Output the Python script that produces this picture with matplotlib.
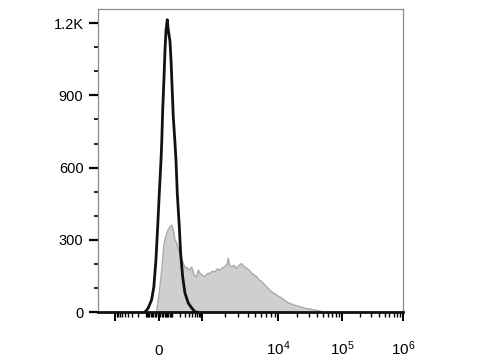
import numpy as np
import matplotlib
matplotlib.use("Agg")
import matplotlib.pyplot as plt
from matplotlib.ticker import FixedLocator, FixedFormatter

plt.rcParams['font.family'] = ['Liberation Sans', 'DejaVu Sans']
plt.rcParams['mathtext.fontset'] = 'custom'
plt.rcParams['mathtext.rm'] = 'Liberation Sans'
plt.rcParams['mathtext.it'] = 'Liberation Sans:italic'

# ---- data (fluorescence intensity, event count) ----
control_x = [-114, -82, -53, -36, -21, -9, 2, 14, 19, 26, 36, 43, 51, 61, 67, 78, 84,
             94, 107, 117, 136, 148, 165, 194, 215, 251, 297, 379, 483, 610, 755]
control_y = [0, 16, 51, 105, 217, 355, 493, 631, 702, 839, 978, 1088, 1170, 1214, 1180,
             1143, 1125, 1047, 909, 811, 702, 631, 493, 355, 245, 147, 80, 38, 18, 2, 0]

stained_x = [-16, 2, 19, 36, 56, 71, 84, 101, 117, 136, 159, 179, 204, 232, 263, 297,
             338, 379, 429, 483, 542, 610, 689, 771, 869, 1000, 1097, 1165, 1275, 1376,
             1484, 1602, 1728, 1865, 2010, 2137, 2222, 2303, 2460, 2637, 2863, 3069,
             3330, 3572, 3876, 4155, 4509, 4834, 5245, 5625, 6102, 6407, 7103, 7610,
             8260, 8860, 9613, 10000, 11420, 12410, 13680, 14860, 16380, 17790, 19610,
             22090, 24860, 28110, 31660, 34620, 37880, 41440, 45340, 49610, 54290, 58320]
stained_y = [8, 80, 175, 286, 327, 345, 355, 361, 340, 300, 286, 265, 245, 220, 203, 185,
             187, 175, 180, 187, 165, 150, 147, 175, 162, 155, 148, 160, 162, 170,
             168, 180, 175, 185, 189, 200, 224, 195, 189, 195, 182, 195,
             202, 190, 182, 175, 162, 155, 148, 135, 127, 120, 106, 95,
             85, 78, 72, 67, 59, 52, 44, 38, 34, 30, 27,
             23, 19, 15, 14, 11, 10, 7, 5, 3, 1, 0]

xtick_major = [-1e3, 0, 1e3, 1e4, 1e5, 1e6]
xtick_labels = ['', '0', '', '$10^4$', '$10^5$', '$10^6$']
ytick_values = [0, 300, 600, 900, 1200]
ytick_labels = ['0', '300', '600', '900', '1.2K']

# ---- biexponential-like display scale ----
_T = np.array([-30.0, -np.arcsinh(10.0), 0.0, np.arcsinh(10.0), np.arcsinh(100.0),
               np.arcsinh(1000.0), np.arcsinh(10000.0), 40.0])
_P = np.array([159 - 30 * 14.68, 115, 159, 202, 278, 342, 403, 403 + (40 - 9.903) * 26.5])


def fwd(x):
    x = np.asarray(x, dtype=float)
    return np.interp(np.arcsinh(x / 100.0), _T, _P)


def inv(p):
    p = np.asarray(p, dtype=float)
    return 100.0 * np.sinh(np.interp(p, _P, _T))


fig = plt.figure(figsize=(4.8, 3.6), dpi=100)
ax = fig.add_axes([98 / 480, 1 - 312.3 / 360, (403 - 98) / 480, (312.3 - 9.3) / 360])
ax.set_xscale('function', functions=(fwd, inv))

ax.fill_between(stained_x, stained_y, 0, color='#cfcfcf', linewidth=0, zorder=1)
ax.plot(stained_x, stained_y, color='#a8a8a8', linewidth=1.0, zorder=2)
ax.plot(control_x, control_y, color='#111111', linewidth=2.0, zorder=3)

ax.set_xlim(inv(98), 1e6)
ax.set_ylim(0, 1257)

# x ticks
ax.xaxis.set_major_locator(FixedLocator(xtick_major))
ax.xaxis.set_major_formatter(FixedFormatter(xtick_labels))
minors = []
for n in range(1, 6):
    for k in range(1, 10):
        v = k * 10 ** n
        if v not in xtick_major:
            minors.append(v)
for n in range(1, 3):
    for k in range(1, 10):
        v = -k * 10 ** n
        if v not in xtick_major:
            minors.append(v)
ax.xaxis.set_minor_locator(FixedLocator(minors))
ax.xaxis.set_minor_formatter(FixedFormatter([''] * len(minors)))
ax.tick_params(axis='x', which='major', direction='out', length=6.5, width=1.4,
               color='black', labelsize=11, pad=24)
ax.tick_params(axis='x', which='minor', direction='out', length=3.5, width=1.0,
               color='black')
for lab in ax.get_xticklabels():
    lab.set_verticalalignment('baseline')

# y ticks
ax.yaxis.set_major_locator(FixedLocator(ytick_values))
ax.yaxis.set_major_formatter(FixedFormatter(ytick_labels))
ax.yaxis.set_minor_locator(FixedLocator([v for v in range(100, 1300, 100) if v not in ytick_values]))
ax.tick_params(axis='y', which='major', direction='out', length=6.5, width=1.6,
               color='black', labelsize=10.5, pad=4)
ax.tick_params(axis='y', which='minor', direction='out', length=3, width=1.2,
               color='black')

for s in ['left', 'top', 'right']:
    ax.spines[s].set_color('#8a8a8a')
    ax.spines[s].set_linewidth(0.9)
ax.spines['bottom'].set_color('#111111')
ax.spines['bottom'].set_linewidth(2.0)

fig.savefig('out.png', dpi=100)
